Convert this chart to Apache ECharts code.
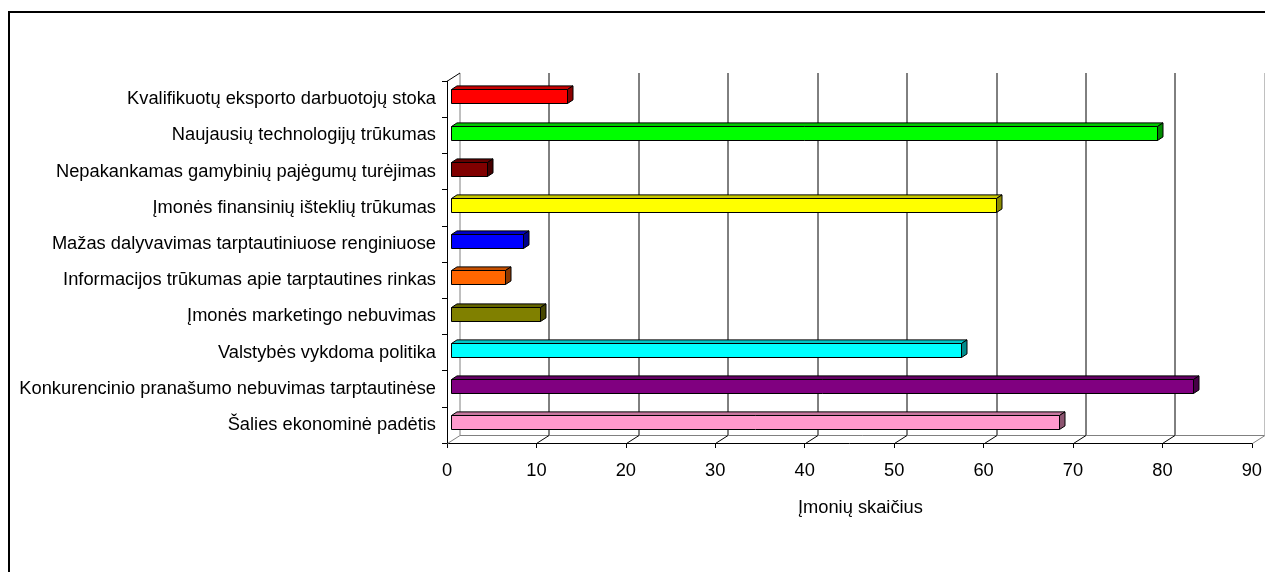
<!DOCTYPE html>
<html>
<head>
<meta charset="utf-8">
<title>Eksporto kliūtys</title>
<script src="https://cdn.jsdelivr.net/npm/echarts@6/dist/echarts.min.js"></script>
<style>
  html, body { margin: 0; padding: 0; background: #fff; }
  #chart { width: 1265px; height: 572px; }
</style>
</head>
<body>
<div id="chart"></div>
<script>
// Kategorijos iš viršaus į apačią
const categories = [
  'Kvalifikuotų eksporto darbuotojų stoka',
  'Naujausių technologijų trūkumas',
  'Nepakankamas gamybinių pajėgumų turėjimas',
  'Įmonės finansinių išteklių trūkumas',
  'Mažas dalyvavimas tarptautiniuose renginiuose',
  'Informacijos trūkumas apie tarptautines rinkas',
  'Įmonės marketingo nebuvimas',
  'Valstybės vykdoma politika',
  'Konkurencinio pranašumo nebuvimas tarptautinėse',
  'Šalies ekonominė padėtis'
];
const values = [13, 79, 4, 61, 8, 6, 10, 57, 83, 68];
const barColors = [
  '#FF0000', '#00FF00', '#800000', '#FFFF00', '#0000FF',
  '#FF6600', '#808000', '#00FFFF', '#800080', '#FF99CC'
];
const xTicks = [0, 10, 20, 30, 40, 50, 60, 70, 80, 90];
const xName = 'Įmonių skaičius';

const FONT = "'Liberation Sans', Arial, sans-serif";
const FS = 18.3;
// 3D wall depth (back wall offset) and bar geometry
const GX = 12.5, GY = -8;
const BX = 4, BY = -2.7;
const BH = 14, BDX = 5.5, BDY = -3.6;

function shade(hex, f) {
  const n = parseInt(hex.slice(1), 16);
  const r = Math.round(((n >> 16) & 255) * f);
  const g = Math.round(((n >> 8) & 255) * f);
  const b = Math.round((n & 255) * f);
  return 'rgb(' + r + ',' + g + ',' + b + ')';
}

const chart = echarts.init(document.getElementById('chart'), null, { renderer: 'canvas' });

function renderFrame(params, api) {
  const cs = params.coordSys;
  const v = api.value(0);
  const p = api.coord([v, 0]);
  const x = Math.round(p[0]) + 0.5;
  const top = cs.y, bottom = cs.y + cs.height;
  const bx = x + GX;
  const children = [];
  const isEdge = (v === xTicks[0] || v === xTicks[xTicks.length - 1]);
  const col = isEdge ? '#808080' : '#000';
  // back wall vertical gridline
  children.push({
    type: 'line',
    shape: { x1: bx, y1: top + GY, x2: bx, y2: bottom + GY },
    style: { stroke: col, lineWidth: 1 }
  });
  // floor diagonal
  children.push({
    type: 'line',
    shape: { x1: x, y1: bottom + 0.5, x2: bx, y2: bottom + GY + 0.5 },
    style: { stroke: col, lineWidth: 1 }
  });
  if (v === xTicks[0]) {
    const pe = api.coord([xTicks[xTicks.length - 1], 0]);
    // floor back edge
    children.push({
      type: 'line',
      shape: { x1: bx, y1: Math.round(bottom + GY) + 0.5, x2: pe[0] + GX, y2: Math.round(bottom + GY) + 0.5 },
      style: { stroke: '#808080', lineWidth: 1 }
    });
    // top-left diagonal of side wall
    children.push({
      type: 'line',
      shape: { x1: x, y1: top, x2: bx, y2: top + GY },
      style: { stroke: '#000', lineWidth: 1 }
    });
  }
  return { type: 'group', children: children };
}

function renderBar(params, api) {
  const ci = api.value(0);
  const val = api.value(1);
  const c0 = api.coord([0, ci]);
  const c1 = api.coord([val, ci]);
  const x0 = Math.round(c0[0] + BX) + 0.5;
  const x1 = Math.round(c1[0] + BX) + 0.5;
  const y0 = Math.round(c0[1] + BY - BH / 2) + 0.5;
  const y1 = y0 + BH;
  const color = barColors[ci];
  const stroke = { stroke: '#000', lineWidth: 1, lineJoin: 'miter' };
  return {
    type: 'group',
    children: [
      {
        type: 'polygon',
        shape: { points: [[x0, y0], [x1, y0], [x1 + BDX, y0 + BDY], [x0 + BDX, y0 + BDY]] },
        style: Object.assign({ fill: shade(color, 0.78) }, stroke)
      },
      {
        type: 'polygon',
        shape: { points: [[x1, y0], [x1 + BDX, y0 + BDY], [x1 + BDX, y1 + BDY], [x1, y1]] },
        style: Object.assign({ fill: shade(color, 0.55) }, stroke)
      },
      {
        type: 'rect',
        shape: { x: x0, y: y0, width: x1 - x0, height: BH },
        style: Object.assign({ fill: color }, stroke)
      }
    ]
  };
}

const option = {
  animation: false,
  backgroundColor: '#fff',
  textStyle: { fontFamily: FONT },
  graphic: [{
    type: 'rect',
    shape: { x: 9, y: 12, width: 1400, height: 700 },
    style: { fill: 'none', stroke: '#000', lineWidth: 2 },
    z: 0, silent: true
  }],
  grid: { left: 447, right: 9, top: 81, bottom: 129, containLabel: false },
  xAxis: {
    type: 'value',
    min: 0, max: 90, interval: 10,
    axisLine: { show: true, lineStyle: { color: '#000', width: 1 } },
    axisTick: { show: true, length: 5, lineStyle: { color: '#000' } },
    axisLabel: { color: '#000', fontSize: FS, fontFamily: FONT, margin: 19 },
    splitLine: { show: false },
    name: xName,
    nameLocation: 'middle',
    nameGap: 56,
    nameTextStyle: { color: '#000', fontSize: FS, fontFamily: FONT, padding: [0, 0, 0, 22] }
  },
  yAxis: {
    type: 'category',
    data: categories,
    inverse: true,
    axisLine: { show: true, lineStyle: { color: '#000', width: 1 } },
    axisTick: { show: true, length: 5, lineStyle: { color: '#000' } },
    axisLabel: { color: '#000', fontSize: FS, fontFamily: FONT, margin: 11 },
    splitLine: { show: false }
  },
  series: [
    {
      type: 'custom',
      name: 'frame',
      renderItem: renderFrame,
      data: xTicks.map(function (t) { return [t]; }),
      encode: { x: 0 },
      clip: false,
      silent: true,
      z: 1
    },
    {
      type: 'custom',
      name: 'Įmonių skaičius',
      renderItem: renderBar,
      data: values.map(function (v, i) { return [i, v]; }),
      encode: { y: 0, x: 1 },
      clip: false,
      z: 3
    }
  ]
};

chart.setOption(option);
</script>
</body>
</html>
